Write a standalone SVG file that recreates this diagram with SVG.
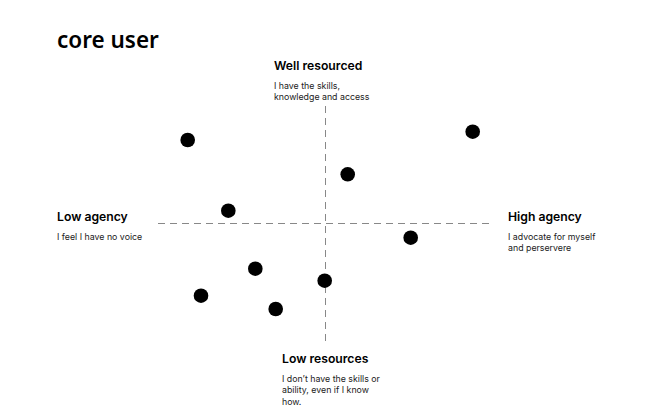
<svg xmlns="http://www.w3.org/2000/svg" width="650" height="420" viewBox="0 0 650 420">
<style>
.title{font-family:"Noto Sans","Open Sans",sans-serif;font-weight:600;font-size:22.5px;fill:#000}
.h{font-family:Inter,"Liberation Sans",sans-serif;font-weight:600;font-size:12.2px;fill:#000}
.b{font-family:Inter,"Liberation Sans",sans-serif;font-size:8.8px;fill:#222}
.axis{stroke:#888;stroke-width:1;stroke-dasharray:7 5;fill:none}
.dot{fill:#000}
</style>
<rect width="650" height="420" fill="#fff"/>
<text class="title" x="57" y="48">core user</text>
<g id="connectors">
<line class="axis" x1="325.5" y1="106" x2="325.5" y2="342"/>
<line class="axis" x1="158" y1="223.5" x2="494" y2="223.5"/>
</g>
<g id="well-resourced">
<text class="h" x="274" y="70">Well resourced</text>
<text class="b" x="274" y="89">I have the skills,</text>
<text class="b" x="274" y="100">knowledge and access</text>
</g>
<g id="low-agency">
<text class="h" x="57" y="221">Low agency</text>
<text class="b" x="57" y="240">I feel I have no voice</text>
</g>
<g id="high-agency">
<text class="h" x="508" y="221">High agency</text>
<text class="b" x="508" y="240">I advocate for myself</text>
<text class="b" x="508" y="251">and perservere</text>
</g>
<g id="low-resources">
<text class="h" x="282" y="363">Low resources</text>
<text class="b" x="282" y="382">I don’t have the skills or</text>
<text class="b" x="282" y="393">ability, even if I know</text>
<text class="b" x="282" y="405">how.</text>
</g>
<g id="dots">
<circle class="dot" cx="187.7" cy="140" r="7.3"/>
<circle class="dot" cx="472.7" cy="131.7" r="7.3"/>
<circle class="dot" cx="347.7" cy="174.3" r="7.3"/>
<circle class="dot" cx="228.3" cy="210.7" r="7.3"/>
<circle class="dot" cx="410.7" cy="237.7" r="7.3"/>
<circle class="dot" cx="255.3" cy="268.7" r="7.3"/>
<circle class="dot" cx="324.7" cy="280.7" r="7.3"/>
<circle class="dot" cx="201" cy="295.7" r="7.3"/>
<circle class="dot" cx="275.7" cy="309" r="7.3"/>
</g>
</svg>
